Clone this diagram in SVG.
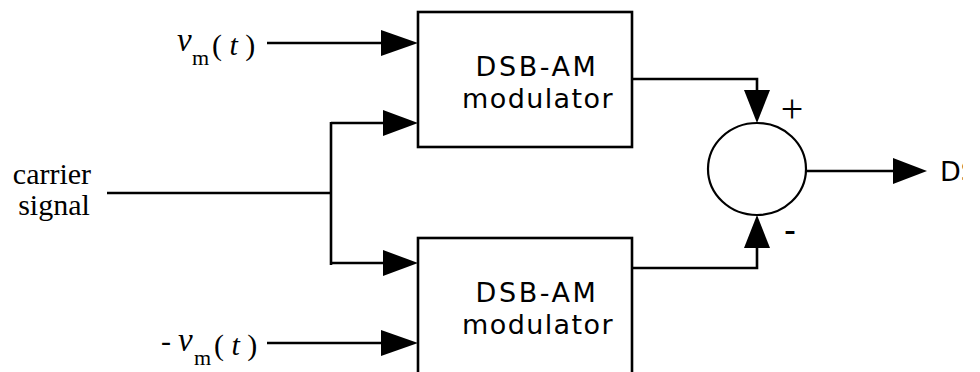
<svg xmlns="http://www.w3.org/2000/svg" width="980" height="372" viewBox="0 0 980 372">
  <style>
    .box { fill: #fff; stroke: #000; stroke-width: 2.6; }
    .sum { fill: #fff; stroke: #000; stroke-width: 2.2; }
    .wire { fill: none; stroke: #000; stroke-width: 2.6; }
    .head { fill: #000; stroke: none; }
    .sans { font-family: "DejaVu Sans", "Liberation Sans", sans-serif; font-size: 27px; fill: #000; }
    .serif { font-family: "Liberation Serif", "Times New Roman", serif; font-size: 30px; fill: #000; }
    .var { font-size: 33px; font-style: italic; }
    .sub { font-size: 22px; }
    .plus { font-family: "Liberation Serif", "Times New Roman", serif; font-size: 40px; fill: #000; }
    .minus { font-family: "Liberation Sans", Arial, sans-serif; font-size: 36px; fill: #000; }
  </style>
  <defs>
    <clipPath id="page-edge">
      <rect x="0" y="0" width="963" height="372"/>
    </clipPath>
  </defs>
  <rect x="0" y="0" width="980" height="372" fill="#fff"/>

  <!-- signal paths -->
  <g id="connectors">
    <!-- message input to upper modulator -->
    <line class="wire" x1="267" y1="43" x2="384" y2="43"/>
    <polygon class="head" points="418,43 381,30 381,56"/>
    <!-- carrier split -->
    <line class="wire" x1="107" y1="193" x2="331" y2="193"/>
    <line class="wire" x1="331" y1="122" x2="331" y2="265"/>
    <line class="wire" x1="331" y1="123" x2="388" y2="123"/>
    <polygon class="head" points="418,123 383,110 383,136"/>
    <line class="wire" x1="331" y1="263" x2="388" y2="263"/>
    <polygon class="head" points="418,263 383,250 383,276"/>
    <!-- negated message input to lower modulator -->
    <line class="wire" x1="267" y1="343" x2="384" y2="343"/>
    <polygon class="head" points="418,343 381,330 381,356"/>
    <!-- modulator outputs to summer -->
    <polyline class="wire" points="632,79 757,79 757,92"/>
    <polygon class="head" points="757,123 744,90 770,90"/>
    <polyline class="wire" points="632,268 757,268 757,246"/>
    <polygon class="head" points="757,215 744,248 770,248"/>
    <!-- summer output -->
    <line class="wire" x1="806" y1="171" x2="896" y2="171"/>
    <polygon class="head" points="927,171 893,158 893,184"/>
  </g>

  <g id="mod-upper">
    <rect class="box" x="418" y="12" width="214" height="135"/>
    <text class="sans" x="537" y="76" text-anchor="middle" letter-spacing="2.6">DSB-AM</text>
    <text class="sans" x="538" y="108" text-anchor="middle" letter-spacing="1.4">modulator</text>
  </g>

  <g id="mod-lower">
    <rect class="box" x="418" y="238" width="214" height="150"/>
    <text class="sans" x="537" y="302" text-anchor="middle" letter-spacing="2.6">DSB-AM</text>
    <text class="sans" x="538" y="334" text-anchor="middle" letter-spacing="1.4">modulator</text>
  </g>

  <g id="summer">
    <ellipse class="sum" cx="757" cy="169" rx="49" ry="46"/>
    <text class="plus" x="792" y="122" text-anchor="middle">+</text>
    <text class="minus" x="790" y="242" text-anchor="middle">-</text>
  </g>

  <g id="in-message">
    <text class="serif var" x="177" y="51">v</text>
    <text class="serif sub" x="192" y="65">m</text>
    <text class="serif" x="212" y="55">( <tspan font-style="italic">t</tspan> )</text>
  </g>

  <g id="in-carrier">
    <text class="serif" x="52" y="184" text-anchor="middle">carrier</text>
    <text class="serif" x="54" y="215" text-anchor="middle">signal</text>
  </g>

  <g id="in-message-neg">
    <text class="serif" x="161" y="351">-</text>
    <text class="serif var" x="178" y="351">v</text>
    <text class="serif sub" x="194" y="365">m</text>
    <text class="serif" x="214" y="355">( <tspan font-style="italic">t</tspan> )</text>
  </g>

  <g id="output" clip-path="url(#page-edge)">
    <text class="sans" x="940" y="181">DS</text>
  </g>
</svg>
